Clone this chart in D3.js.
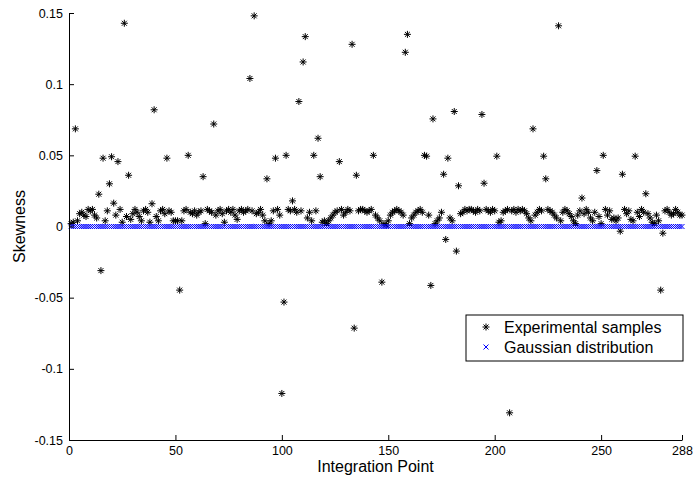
<!DOCTYPE html>
<html>
<head>
<meta charset="utf-8">
<script src="https://cdn.jsdelivr.net/npm/d3@7"></script>
<style>
  html, body { margin: 0; padding: 0; background: #fff; }
  svg { display: block; font-family: "Liberation Sans", Arial, Helvetica, sans-serif; }
</style>
</head>
<body>
<svg id="chart" width="694" height="480"></svg>
<script>
// ---- data ----
const xTicks = [0, 50, 100, 150, 200, 250, 288];
const yTicks = [-0.15, -0.1, -0.05, 0, 0.05, 0.1, 0.15];
const yTickLabels = ["-0.15", "-0.1", "-0.05", "0", "0.05", "0.1", "0.15"];
const seriesNames = ["Experimental samples", "Gaussian distribution"];
const xLabel = "Integration Point";
const yLabel = "Skewness";

// skewness of experimental samples, integration points 1..288
const experimentalSkewness = [
  0.002, 0.003, 0.0686, 0.004, 0.009, 0.010, 0.008, 0.007, 0.012, 0.011, 0.012, 0.008,
  0.006, 0.0227, -0.031, 0.048, 0.004, 0.011, 0.030, 0.049, 0.0164, 0.008, 0.0456, 0.012,
  0.003, 0.1428, 0.007, 0.036, 0.005, 0.009, 0.012, 0.010, 0.007, 0.004, 0.011, 0.012,
  0.010, 0.003, 0.016, 0.082, 0.007, 0.004, 0.011, 0.012, 0.009, 0.048, 0.011, 0.010,
  0.004, 0.004, 0.004, -0.0447, 0.004, 0.011, 0.012, 0.050, 0.010, 0.009, 0.011, 0.008,
  0.010, 0.011, 0.035, 0.002, 0.012, 0.011, 0.010, 0.072, 0.008, 0.011, 0.012, 0.009,
  0.003, 0.011, 0.012, 0.010, 0.012, 0.008, 0.005, 0.011, 0.012, 0.010, 0.011, 0.012,
  0.104, 0.011, 0.148, 0.009, 0.010, 0.012, 0.008, 0.004, 0.0335, 0.002, 0.004, 0.011,
  0.048, 0.012, 0.008, -0.1173, -0.0531, 0.050, 0.012, 0.011, 0.018, 0.012, 0.010, 0.0878,
  0.011, 0.1156, 0.1334, 0.006, 0.010, 0.004, 0.050, 0.011, 0.062, 0.035, 0.003, 0.004,
  0.002, 0.004, 0.006, 0.008, 0.010, 0.011, 0.0456, 0.012, 0.008, 0.010, 0.012, 0.011,
  0.128, -0.0714, 0.036, 0.011, 0.012, 0.012, 0.011, 0.010, 0.011, 0.012, 0.050, 0.008,
  0.006, 0.004, -0.0391, 0.002, 0.001, 0.004, 0.008, 0.010, 0.011, 0.012, 0.011, 0.010,
  0.008, 0.1224, 0.135, 0.002, 0.006, 0.008, 0.010, 0.011, 0.012, 0.010, 0.050, 0.0494,
  0.008, -0.0414, 0.0756, 0.002, 0.004, 0.006, 0.010, 0.0367, -0.0091, 0.048, 0.006, 0.004,
  0.0808, -0.0173, 0.0286, 0.009, 0.010, 0.012, 0.011, 0.012, 0.012, 0.011, 0.010, 0.012,
  0.011, 0.0787, 0.0304, 0.012, 0.011, 0.010, 0.012, 0.011, 0.0494, 0.003, 0.004, 0.010,
  0.011, 0.012, -0.1309, 0.011, 0.012, 0.010, 0.012, 0.011, 0.012, 0.011, 0.009, 0.006,
  0.004, 0.0686, 0.008, 0.010, 0.012, 0.011, 0.0494, 0.0335, 0.012, 0.011, 0.010, 0.008,
  0.006, 0.141, 0.004, 0.010, 0.012, 0.011, 0.009, 0.007, 0.004, 0.002, 0.008, 0.011,
  0.020, 0.009, 0.012, 0.010, 0.006, 0.004, 0.010, 0.0393, 0.007, 0.002, 0.050, 0.012,
  0.008, 0.011, 0.005, 0.006, 0.004, 0.006, -0.0033, 0.0367, 0.012, 0.009, 0.011, 0.005,
  0.004, 0.0494, 0.010, 0.007, 0.012, 0.010, 0.023, 0.009, 0.006, 0.003, 0.002, 0.008,
  0.004, -0.0447, -0.0047, 0.011, 0.012, 0.010, 0.008, 0.009, 0.012, 0.010, 0.008, 0.008
];

// skewness of a Gaussian distribution, integration points 1..288
const gaussianSkewness = [
  0,0,0,0,0,0,0,0,0,0,0,0,0,0,0,0,0,0,0,0,0,0,0,0,
  0,0,0,0,0,0,0,0,0,0,0,0,0,0,0,0,0,0,0,0,0,0,0,0,
  0,0,0,0,0,0,0,0,0,0,0,0,0,0,0,0,0,0,0,0,0,0,0,0,
  0,0,0,0,0,0,0,0,0,0,0,0,0,0,0,0,0,0,0,0,0,0,0,0,
  0,0,0,0,0,0,0,0,0,0,0,0,0,0,0,0,0,0,0,0,0,0,0,0,
  0,0,0,0,0,0,0,0,0,0,0,0,0,0,0,0,0,0,0,0,0,0,0,0,
  0,0,0,0,0,0,0,0,0,0,0,0,0,0,0,0,0,0,0,0,0,0,0,0,
  0,0,0,0,0,0,0,0,0,0,0,0,0,0,0,0,0,0,0,0,0,0,0,0,
  0,0,0,0,0,0,0,0,0,0,0,0,0,0,0,0,0,0,0,0,0,0,0,0,
  0,0,0,0,0,0,0,0,0,0,0,0,0,0,0,0,0,0,0,0,0,0,0,0,
  0,0,0,0,0,0,0,0,0,0,0,0,0,0,0,0,0,0,0,0,0,0,0,0,
  0,0,0,0,0,0,0,0,0,0,0,0,0,0,0,0,0,0,0,0,0,0,0,0
];

// ---- layout ----
const W = 694, H = 480;
const margin = { left: 69, right: 12, top: 13, bottom: 40 };
const svg = d3.select("#chart");

const x = d3.scaleLinear().domain([0, 288]).range([margin.left, W - margin.right]);
const y = d3.scaleLinear().domain([-0.15, 0.15]).range([H - margin.bottom, margin.top]);

// markers
function asteriskPath(r) {
  const d = r * Math.SQRT1_2;
  return `M${-r},0L${r},0M0,${-r}L0,${r}M${-d},${-d}L${d},${d}M${-d},${d}L${d},${-d}`;
}
function crossPath(r) {
  return `M${-r},${-r}L${r},${r}M${-r},${r}L${r},${-r}`;
}

// experimental samples
svg.append("g")
  .selectAll("path")
  .data(experimentalSkewness)
  .join("path")
  .attr("transform", (d, i) => `translate(${x(i + 1)},${y(d)})`)
  .attr("d", asteriskPath(3.5))
  .attr("fill", "none")
  .attr("stroke", "#000")
  .attr("stroke-width", 1);

// gaussian distribution
svg.append("g")
  .selectAll("path")
  .data(gaussianSkewness)
  .join("path")
  .attr("transform", (d, i) => `translate(${x(i + 1)},${y(d)})`)
  .attr("d", crossPath(2.5))
  .attr("fill", "none")
  .attr("stroke", "#0000ff")
  .attr("stroke-width", 1);

// axes
const xAxis = d3.axisBottom(x)
  .tickValues(xTicks)
  .tickFormat(d3.format("d"))
  .tickSizeInner(-5)
  .tickSizeOuter(0)
  .tickPadding(6);
const gx = svg.append("g")
  .attr("transform", `translate(0,${H - margin.bottom})`)
  .call(xAxis);

const yAxis = d3.axisLeft(y)
  .tickValues(yTicks)
  .tickFormat((d, i) => yTickLabels[i])
  .tickSizeInner(-5)
  .tickSizeOuter(0)
  .tickPadding(6);
const gy = svg.append("g")
  .attr("transform", `translate(${margin.left},0)`)
  .call(yAxis);

[gx, gy].forEach(g => {
  g.selectAll("path.domain").attr("stroke", "#000").attr("stroke-width", 1);
  g.selectAll(".tick line").attr("stroke", "#000").attr("stroke-width", 1);
  g.selectAll(".tick text")
    .attr("fill", "#000")
    .style("font-size", "12.5px")
    .style("font-family", "'Liberation Sans', Arial, sans-serif");
});

// axis labels
svg.append("text")
  .attr("x", (x.range()[0] + x.range()[1]) / 2)
  .attr("y", 472)
  .attr("text-anchor", "middle")
  .style("font-size", "16px")
  .attr("fill", "#000")
  .text(xLabel);

svg.append("text")
  .attr("transform", `translate(25,${(y.range()[0] + y.range()[1]) / 2}) rotate(-90)`)
  .attr("text-anchor", "middle")
  .style("font-size", "16px")
  .attr("fill", "#000")
  .text(yLabel);

// legend
const legend = svg.append("g").attr("transform", "translate(466,315)");
legend.append("rect")
  .attr("x", 0).attr("y", 0)
  .attr("width", 217).attr("height", 46)
  .attr("fill", "#fff")
  .attr("stroke", "#000")
  .attr("stroke-width", 1);

const legendItems = [
  { name: seriesNames[0], path: asteriskPath(3.5), color: "#000" },
  { name: seriesNames[1], path: crossPath(2.5), color: "#0000ff" }
];
legendItems.forEach((it, i) => {
  const cy = 12 + i * 20;
  legend.append("path")
    .attr("transform", `translate(20,${cy})`)
    .attr("d", it.path)
    .attr("fill", "none")
    .attr("stroke", it.color)
    .attr("stroke-width", 1);
  legend.append("text")
    .attr("x", 38)
    .attr("y", cy)
    .attr("dy", "0.35em")
    .style("font-size", "16px")
    .attr("fill", "#000")
    .text(it.name);
});
</script>
</body>
</html>
